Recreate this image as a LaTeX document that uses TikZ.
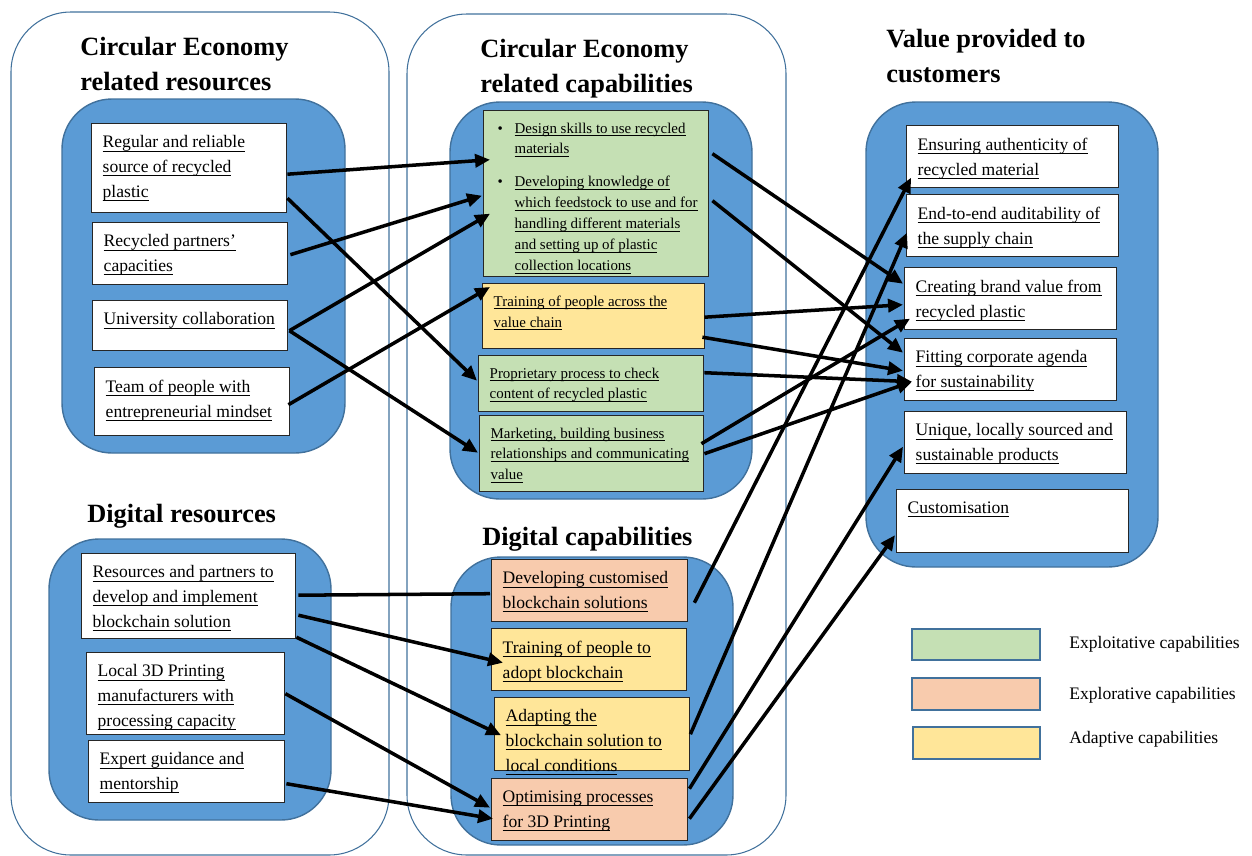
\documentclass[tikz,border=0pt]{standalone}
\usepackage{fontspec}
\setmainfont{Liberation Serif}
\usetikzlibrary{arrows.meta,calc}

\definecolor{panelblue}{RGB}{91,155,213}
\definecolor{panelline}{RGB}{65,113,156}
\definecolor{exploitgreen}{RGB}{197,224,180}
\definecolor{exploreorange}{RGB}{248,203,173}
\definecolor{adaptyellow}{RGB}{255,230,153}

\newdimen\pxu \pxu=0.02cm
\newsavebox{\linedbox}
\newcommand{\lined}[1]{\leavevmode\sbox{\linedbox}{#1}\rlap{\rule[-0.2em]{\wd\linedbox}{0.05em}}\usebox{\linedbox}}
\newcommand{\bulletmark}{\hspace*{3\pxu}\makebox[17\pxu][l]{\textbullet}}
\newcommand{\bulletgap}{\hspace*{20\pxu}}

\tikzset{
  frame/.style={draw=panelline, line width=0.6pt, rounded corners=60\pxu},
  panel/.style={draw=panelline, fill=panelblue, line width=0.8pt, rounded corners=50\pxu},
  heading/.style={anchor=base west, inner sep=0pt, align=left, font=\fontsize{15}{19.8}\selectfont\bfseries},
  card/.style 2 args={draw=black!85, fill=white, line width=0.8pt, anchor=north west,
    inner xsep=11\pxu, inner ysep=12\pxu, font=\fontsize{10}{14.2}\selectfont,
    execute at begin node={\begin{minipage}[t][\dimexpr#2\pxu-24\pxu\relax][t]{\dimexpr#1\pxu-22\pxu\relax}\raggedright},
    execute at end node={\end{minipage}}},
  small/.style={font=\fontsize{8.5}{11.9}\selectfont},
  link/.style={line width=2pt, -{Triangle[length=8.5pt,width=7.5pt]}},
  keybox/.style={draw=panelline, line width=1pt, anchor=north west, inner sep=0pt},
  keytext/.style={anchor=base west, inner sep=0pt, font=\fontsize{10}{12}\selectfont},
}

\begin{document}
\begin{tikzpicture}[x=0.02cm, y=-0.02cm]
\useasboundingbox (0,0) rectangle (1252,856);

\draw[frame] (11,12) rectangle (389,855);
\draw[frame] (407,14) rectangle (786,855);

\draw[panel] (62,99) rectangle (345,453);
\draw[panel] (450,102) rectangle (752,499);
\draw[panel] (866,102) rectangle (1158,567);
\draw[panel] (49,539) rectangle (331,820);
\draw[panel] (451,557) rectangle (733,845);

\node[heading] (ceres) at (80,90) {Circular Economy\\related resources};
\node[heading] (cecap) at (480,92) {Circular Economy\\related capabilities};
\node[heading] (value) at (886,82) {Value provided to\\customers};
\node[heading] (digres) at (87,522) {Digital resources};
\node[heading] (digcap) at (482,545) {Digital capabilities};

\node[card={195}{89}] (reg) at (91,123) {\lined{Regular and reliable}\\\lined{source of recycled}\\\lined{plastic}};
\node[card={195}{62}] (rpc) at (92,222) {\lined{Recycled partners’}\\\lined{capacities}};
\node[card={195}{50}] (uni) at (92,300) {\lined{University collaboration}};
\node[card={195}{68}] (team) at (94,367) {\lined{Team of people with}\\\lined{entrepreneurial mindset}};

\node[card={225}{166}, small, fill=exploitgreen] (dsk) at (483,110) {\bulletmark\lined{Design skills to use  recycled}\\
\bulletgap\lined{materials}\\[12\pxu]
\bulletmark\lined{Developing knowledge of}\\
\bulletgap\lined{which feedstock to use and for}\\
\bulletgap\lined{handling different materials}\\
\bulletgap\lined{and setting up of plastic}\\
\bulletgap\lined{collection locations}};
\node[card={222}{65}, small, fill=adaptyellow] (tvc) at (482,283) {\lined{Training of people across the}\\\lined{value chain}};
\node[card={225}{56}, small, fill=exploitgreen] (prop) at (478,355) {\lined{Proprietary process to check}\\\lined{content of recycled plastic}};
\node[card={224}{76}, small, fill=exploitgreen] (mkt) at (479,415) {\lined{Marketing, building business}\\\lined{relationships and communicating}\\\lined{value}};

\node[card={212}{62}] (auth) at (906,125) {\lined{Ensuring authenticity of}\\\lined{recycled material}};
\node[card={212}{62}] (audit) at (906,194) {\lined{End-to-end auditability of}\\\lined{the supply chain}};
\node[card={212}{62}] (brand) at (904,267) {\lined{Creating brand value from}\\\lined{recycled plastic}};
\node[card={212}{62}] (agenda) at (904,338) {\lined{Fitting corporate agenda}\\\lined{for sustainability}};
\node[card={222}{62}] (local) at (904,411) {\lined{Unique, locally sourced and}\\\lined{sustainable products}};
\node[card={232}{63}] (cust) at (896,489) {\lined{Customisation}};

\node[card={214}{85}] (bcres) at (81,553) {\lined{Resources and partners to}\\\lined{develop and implement}\\\lined{blockchain solution}};
\node[card={198}{82}] (print) at (86,652) {\lined{Local 3D Printing}\\\lined{manufacturers with}\\\lined{processing capacity}};
\node[card={196}{62}] (mentor) at (88,740) {\lined{Expert guidance and}\\\lined{mentorship}};

\node[card={196}{62}, fill=exploreorange] (dev) at (491,559) {\lined{Developing customised}\\\lined{blockchain solutions}};
\node[card={195}{62}, fill=adaptyellow] (tadopt) at (491,628) {\lined{Training of people to}\\\lined{adopt blockchain}};
\node[card={195}{73}, fill=adaptyellow] (adapt) at (494,697) {\lined{Adapting  the}\\\lined{blockchain solution to}\\\lined{local conditions}};
\node[card={196}{62}, fill=exploreorange] (opt) at (491,778) {\lined{Optimising processes}\\\lined{for 3D Printing}};

\node[keybox, fill=exploitgreen, minimum width=128\pxu, minimum height=31\pxu] (keyexploit) at (911,628) {};
\node[keybox, fill=exploreorange, minimum width=128\pxu, minimum height=32\pxu] (keyexplore) at (911,677) {};
\node[keybox, fill=adaptyellow, minimum width=127\pxu, minimum height=32\pxu] (keyadapt) at (912,726) {};
\node[keytext] (keyexploittext) at (1069,648) {Exploitative capabilities};
\node[keytext] (keyexploretext) at (1069,699) {Explorative capabilities};
\node[keytext] (keyadapttext) at (1069,743) {Adaptive capabilities};

\draw[link] ($(reg.east)+(0,6)$) -- ($(dsk.west)+(7,-34)$);
\draw[link] ($(reg.east)+(0,30)$) -- ($(prop.west)+(-1,-3)$);
\draw[link] ($(rpc.east)+(2,1)$) -- ($(dsk.west)+(-1,2)$);
\draw[link] ($(uni.east)+(1,5)$) -- ($(dsk.west)+(7,20)$);
\draw[link] ($(uni.east)+(1,5)$) -- ($(mkt.west)+(-1,-1)$);
\draw[link] ($(team.east)+(-2,3)$) -- ($(tvc.north west)+(8,4)$);

\draw[link] ($(dsk.east)+(3,-40)$) -- ($(brand.west)+(-1,-15)$);
\draw[link] ($(dsk.east)+(3,7)$) -- ($(agenda.west)+(-1,-17)$);
\draw[link] ($(tvc.east)+(-1,1)$) -- ($(brand.west)+(-1,6)$);
\draw[link] ($(tvc.east)+(-3,21)$) -- ($(agenda.west)+(-1,1)$);
\draw[link] ($(prop.east)+(0,-11)$) -- ($(agenda.west)+(8,12)$);
\draw[link] ($(mkt.east)+(-3,-10)$) -- ($(brand.west)+(6,20)$);
\draw[link] (mkt.east) -- ($(agenda.west)+(8,12)$);

\draw[link] ($(dev.east)+(6,12)$) -- ($(auth.west)+(5,21)$);
\draw[link] (adapt.east) -- ($(audit.west)+(1,7)$);
\draw[link] ($(opt.east)+(1,-21)$) -- ($(local.west)+(-1,4)$);
\draw[link] ($(opt.east)+(1,9)$) -- ($(cust.west)+(-1,14)$);

\draw[link, -] ($(bcres.east)+(2,-1)$) -- ($(dev.west)+(-1,3)$);
\draw[link] ($(bcres.east)+(2,19)$) -- ($(tadopt.west)+(12,3)$);
\draw[link] ($(bcres.east)+(0,41)$) -- ($(adapt.west)+(7,1)$);
\draw[link] (print.east) -- ($(opt.west)+(-1,-2)$);
\draw[link] ($(mentor.east)+(1,12)$) -- ($(opt.west)+(2,9)$);
\end{tikzpicture}
\end{document}
